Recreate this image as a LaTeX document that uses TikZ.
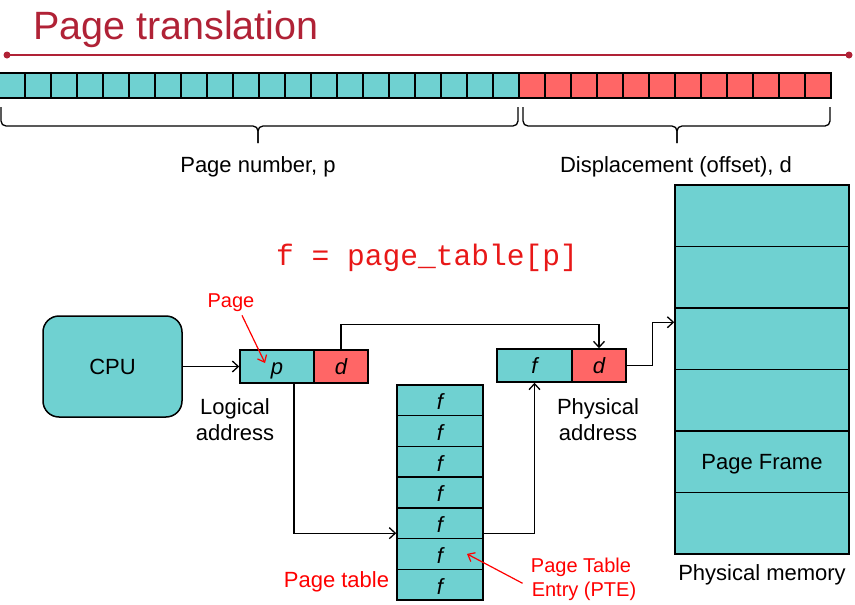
\documentclass[tikz,border=0pt]{standalone}
\usepackage{fontspec}
\setmainfont{Liberation Sans}
\newfontfamily\codefont{Liberation Mono}
\usetikzlibrary{arrows.meta,calc}
\definecolor{cyanf}{RGB}{111,209,209}
\definecolor{redf}{RGB}{255,102,102}
\definecolor{titlered}{RGB}{176,34,54}
\definecolor{labred}{RGB}{255,0,0}
\definecolor{codered}{RGB}{232,24,24}
\begin{document}
\begin{tikzpicture}[x=1pt,y=-1pt,
  cell/.style={draw=black, line width=1.5pt, inner sep=0pt, minimum height=33pt, text height=16pt, text depth=1pt, font=\fontsize{22}{26}\selectfont\itshape},
  bit/.style={draw=black, line width=1.3pt, inner sep=0pt, minimum width=26pt, minimum height=25pt},
  memrow/.style={draw=black, line width=1.5pt, fill=cyanf, inner sep=0pt, minimum width=174pt, minimum height=61.5pt},
  ptrow/.style={draw=black, line width=1.5pt, fill=cyanf, inner sep=0pt, minimum width=86pt, minimum height=30.71pt, text height=19pt, text depth=0pt, font=\fontsize{22}{26}\selectfont\itshape},
  arr/.style={-{Straight Barb[length=6pt,width=11pt]}, line width=1.3pt},
  redarr/.style={-{Straight Barb[length=6pt,width=10pt]}, line width=1.2pt, draw=labred},
  txt/.style={font=\fontsize{22}{26}\selectfont, inner sep=0pt},
  redtxt/.style={font=\fontsize{20}{24}\selectfont, inner sep=0pt, text=labred},
  bracestyle/.style={line width=1.3pt, rounded corners=5pt}
]
\useasboundingbox (0,0) rectangle (855,605);
% title
\node[font=\fontsize{39.5}{42}\selectfont, text=titlered, anchor=base west, inner sep=0pt] (title) at (33,39.5) {Page translation};
\coordinate (rl) at (7,55);
\coordinate (rr) at (849,55);
\draw[titlered, line width=2pt] (rl) -- (rr);
\fill[titlered] (rl) circle (3.5pt);
\fill[titlered] (rr) circle (3.5pt);
% bit bar
\foreach \i in {0,...,19} \node[bit, fill=cyanf] (b\i) at (12+26*\i, 85.5) {};
\foreach \i in {0,...,11} \node[bit, fill=redf] (r\i) at (532+26*\i, 85.5) {};
% braces
\draw[bracestyle] (1,107) -- (1,126) -- (258,126) -- (258,143);
\draw[bracestyle] (258,143) -- (258,126) -- (518,126) -- (518,107);
\draw[bracestyle] (523,107) -- (523,126) -- (677,126) -- (677,143);
\draw[bracestyle] (677,143) -- (677,126) -- (830,126) -- (830,107);
\node[txt, anchor=base] (pnum) at (258,172) {Page number, p};
\node[txt, anchor=base] (disp) at (676,172) {Displacement (offset), d};
% code
\node[font=\fontsize{29.6}{32}\selectfont\codefont, text=codered, anchor=base, inner sep=0pt] (code) at (427,265) {f = page\_table[p]};
% CPU
\node[draw=black, line width=1.5pt, fill=cyanf, rounded corners=16pt, minimum width=139pt, minimum height=101pt, inner sep=0pt, font=\fontsize{22}{26}\selectfont] (cpu) at (112.5,366.5) {CPU};
% logical address
\node[cell, fill=cyanf, minimum width=74pt] (lp) at (277,366.5) {p};
\node[cell, fill=redf, minimum width=54pt] (ld) at (341,366.5) {d};
\node[txt, anchor=base] (log1) at (235,414) {Logical};
\node[txt, anchor=base] (log2) at (235,440) {address};
% physical address
\node[cell, fill=cyanf, minimum width=75pt] (pf) at (534.5,365.5) {f};
\node[cell, fill=redf, minimum width=54pt] (pd) at (599,365.5) {d};
\node[txt, anchor=base] (phy1) at (598,414) {Physical};
\node[txt, anchor=base] (phy2) at (598,440) {address};
% physical memory
\foreach \i in {0,...,5} \node[memrow] (m\i) at (762,215.75+61.5*\i) {};
\node[txt] (pframe) at ([yshift=-2.5pt]m4.center) {Page Frame};
\node[txt, anchor=base] (pmem) at (762,580) {Physical memory};
% page table
\foreach \i in {0,...,6} \node[ptrow] (t\i) at (440,400.36+30.71*\i) {f};
\node[txt, anchor=base, text=labred] (ptlab) at (336.5,587) {Page table};
\node[redtxt, anchor=base] (pte1) at (581,572) {Page Table};
\node[redtxt, anchor=base] (pte2) at (584,596) {Entry (PTE)};
\node[redtxt, anchor=base] (pagelab) at (231,307) {Page};
% connectors
\draw[arr] (cpu.east) -- (lp.west);
\draw[arr] (ld.north) -- ++(0,-25) -| (pd.north);
\draw[arr] (pd.east) -- ++(26,0) |- ([yshift=16.5pt]m2.west);
\draw[arr] ([xshift=17pt]lp.south) |- ([yshift=-10pt]t4.west);
\draw[arr] ([yshift=-10pt]t4.east) -| (pf.south);
% red pointers
\draw[redarr] ([xshift=11pt,yshift=-4pt]pagelab.south) -- ([xshift=-12pt,yshift=3.5pt]lp.center);
\draw[redarr] ([xshift=-9pt,yshift=-2pt]pte2.north west) -- ([xshift=27pt]t5.center);
\end{tikzpicture}
\end{document}
